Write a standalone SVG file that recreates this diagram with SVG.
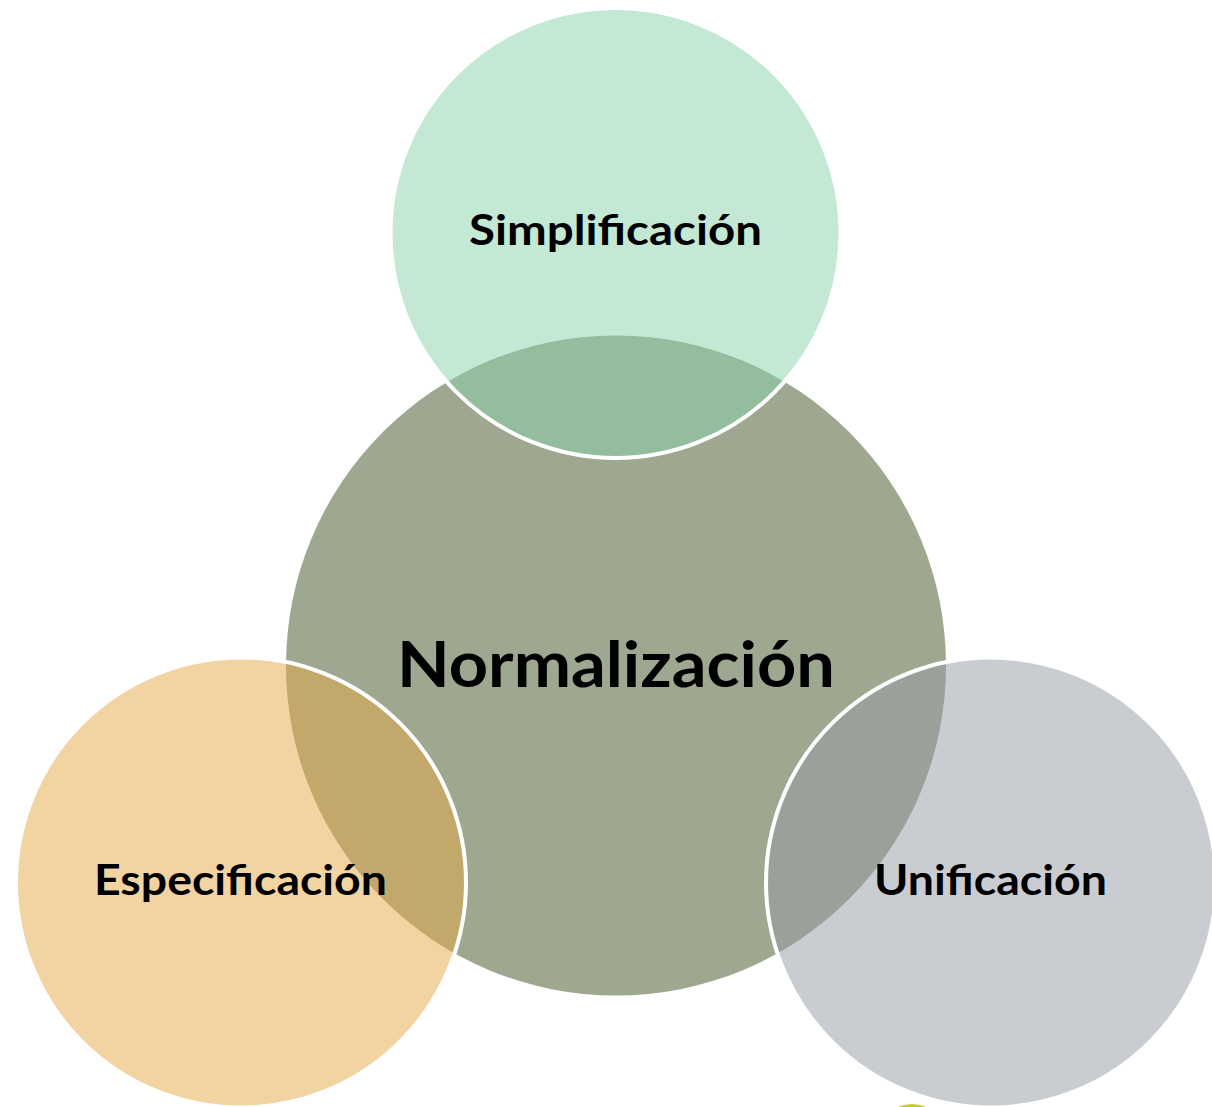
<svg xmlns="http://www.w3.org/2000/svg" width="1212" height="1107" viewBox="0 0 1212 1107">
  <style>
    .lbl { font-family: "Lato", "Open Sans", "Liberation Sans", sans-serif; font-weight: 700; fill: #000; text-anchor: middle; }
    .small { font-size: 42px; }
    .big { font-size: 64px; }
    .sat { stroke: #ffffff; stroke-width: 4; fill-opacity: 0.5; }
  </style>
  <rect width="1212" height="1107" fill="#ffffff"/>
  <g id="accent">
    <circle cx="912" cy="1140" r="36" fill="#C5CC2E"/>
  </g>
  <g id="node-normalizacion">
    <circle cx="616" cy="665.5" r="330" fill="#9EA891"/>
    <text class="lbl big" x="616" y="687" textLength="438" lengthAdjust="spacingAndGlyphs">Normalización</text>
  </g>
  <g id="node-simplificacion">
    <circle class="sat" cx="615.5" cy="233" r="225" fill="#87D1A9"/>
    <text class="lbl small" x="615.5" y="245" textLength="293" lengthAdjust="spacingAndGlyphs">Simplificación</text>
  </g>
  <g id="node-especificacion">
    <circle class="sat" cx="241" cy="882.5" r="225" fill="#E5A745"/>
    <text class="lbl small" x="240.5" y="895" textLength="293" lengthAdjust="spacingAndGlyphs">Especificación</text>
  </g>
  <g id="node-unificacion">
    <circle class="sat" cx="991" cy="882.5" r="225" fill="#9399A3"/>
    <text class="lbl small" x="990.5" y="895" textLength="233" lengthAdjust="spacingAndGlyphs">Unificación</text>
  </g>
  <g id="connectors"></g>
</svg>
